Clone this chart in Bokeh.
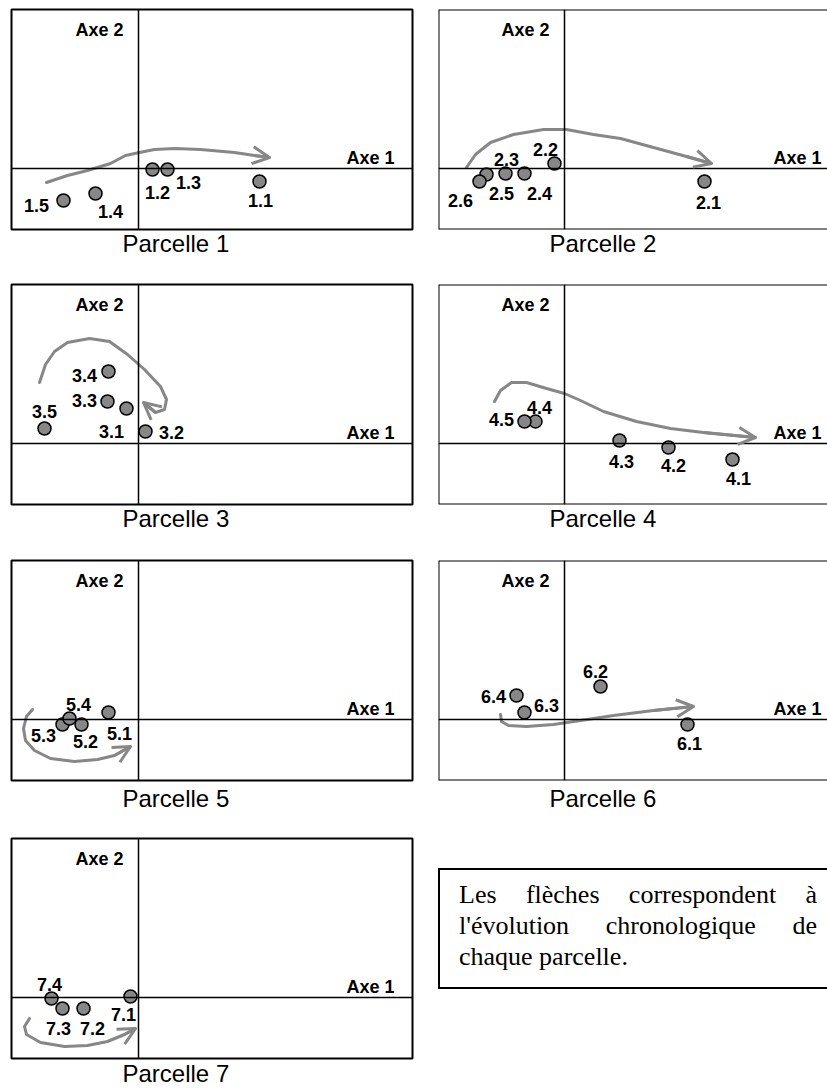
from bokeh.plotting import figure
from bokeh.models import Span, Label, Arrow, OpenHead, ColumnDataSource, Div, Title
from bokeh.layouts import column, row
from bokeh.core.properties import value
from bokeh.embed import file_html
from bokeh.resources import INLINE

# ---------------- data (factor scores, arbitrary units) ----------------
p1_labels = ["1.1", "1.2", "1.3", "1.4", "1.5"]
p1_axe1 = [1.21, 0.14, 0.29, -0.43, -0.75]
p1_axe2 = [-0.13, -0.01, -0.01, -0.25, -0.32]
p1_arrow_x = [-0.92, -0.71, -0.51, -0.28, -0.13, 0.01, 0.16, 0.36, 0.62, 0.96, 1.16, 1.31]
p1_arrow_y = [-0.14, -0.07, -0.02, 0.05, 0.13, 0.16, 0.19, 0.20, 0.19, 0.16, 0.13, 0.11]

p2_labels = ["2.1", "2.2", "2.3", "2.4", "2.5", "2.6"]
p2_axe1 = [1.40, -0.10, -0.78, -0.40, -0.59, -0.85]
p2_axe2 = [-0.13, 0.05, -0.06, -0.05, -0.05, -0.13]
p2_arrow_x = [-0.98, -0.89, -0.74, -0.51, -0.21, 0.02, 0.29, 0.56, 0.89, 1.22, 1.47]
p2_arrow_y = [0.01, 0.14, 0.26, 0.34, 0.39, 0.39, 0.34, 0.30, 0.21, 0.12, 0.05]

p3_labels = ["3.1", "3.2", "3.3", "3.4", "3.5"]
p3_axe1 = [-0.12, 0.07, -0.31, -0.30, -0.94]
p3_axe2 = [0.35, 0.12, 0.42, 0.72, 0.15]
p3_arrow_x = [-0.99, -0.93, -0.84, -0.71, -0.49, -0.29, -0.11, 0.06, 0.22, 0.28, 0.26, 0.17, 0.05]
p3_arrow_y = [0.61, 0.79, 0.92, 1.01, 1.05, 1.02, 0.89, 0.74, 0.57, 0.44, 0.34, 0.31, 0.41]

p4_labels = ["4.1", "4.2", "4.3", "4.4", "4.5"]
p4_axe1 = [1.68, 1.04, 0.55, -0.29, -0.40]
p4_axe2 = [-0.16, -0.04, 0.03, 0.22, 0.22]
p4_arrow_x = [-0.70, -0.64, -0.53, -0.38, -0.18, 0.00, 0.16, 0.39, 0.72, 1.06, 1.39, 1.91]
p4_arrow_y = [0.42, 0.53, 0.61, 0.61, 0.55, 0.50, 0.43, 0.32, 0.22, 0.15, 0.11, 0.06]

p5_labels = ["5.1", "5.2", "5.3", "5.4"]
p5_axe1 = [-0.30, -0.57, -0.76, -0.69]
p5_axe2 = [0.07, -0.05, -0.05, 0.01]
p5_arrow_x = [-1.06, -1.12, -1.15, -1.13, -1.04, -0.88, -0.64, -0.41, -0.24, -0.08]
p5_arrow_y = [0.10, 0.03, -0.09, -0.21, -0.31, -0.39, -0.42, -0.40, -0.36, -0.27]

p6_labels = ["6.1", "6.2", "6.3", "6.4"]
p6_axe1 = [1.23, 0.36, -0.40, -0.48]
p6_axe2 = [-0.05, 0.33, 0.07, 0.24]
p6_arrow_x = [-0.64, -0.63, -0.56, -0.38, -0.11, 0.16, 0.49, 0.89, 1.29]
p6_arrow_y = [0.05, -0.02, -0.06, -0.07, -0.05, -0.01, 0.04, 0.09, 0.13]

p7_labels = ["7.1", "7.2", "7.3", "7.4"]
p7_axe1 = [-0.08, -0.55, -0.76, -0.87]
p7_axe2 = [0.01, -0.11, -0.11, -0.01]
p7_arrow_x = [-1.09, -1.14, -1.12, -0.98, -0.74, -0.51, -0.31, -0.14, -0.03]
p7_arrow_y = [-0.21, -0.29, -0.37, -0.45, -0.49, -0.48, -0.44, -0.37, -0.31]

captions = ["Parcelle 1", "Parcelle 2", "Parcelle 3", "Parcelle 4",
            "Parcelle 5", "Parcelle 6", "Parcelle 7"]
axis1_name = "Axe 1"
axis2_name = "Axe 2"
note_text = "Les flèches correspondent à l'évolution chronologique de chaque parcelle."

# ---------------- layout / style (not data) ----------------
label_offsets = {  # pixel offset of each point label from its point
    "1.1": (1, 19), "1.2": (5, 23), "1.3": (21, 13), "1.4": (15, 18), "1.5": (-27, 5),
    "2.1": (4, 21), "2.2": (-9, -14), "2.3": (20, -15), "2.4": (15, 20), "2.5": (-4, 20), "2.6": (-19, 19),
    "3.1": (-15, 23), "3.2": (26, 1), "3.3": (-23, -1), "3.4": (-24, 4), "3.5": (0, -17),
    "4.1": (6, 19), "4.2": (5, 18), "4.3": (2, 21), "4.4": (4, -14), "4.5": (-23, -2),
    "5.1": (11, 21), "5.2": (4, 17), "5.3": (-19, 11), "5.4": (9, -14),
    "6.1": (2, 19), "6.2": (-5, -15), "6.3": (22, -7), "6.4": (-23, 1),
    "7.1": (-7, 18), "7.2": (9, 20), "7.3": (-4, 20), "7.4": (-2, -14),
}

GRAY = "#878787"
SANS = "Liberation Sans"
FRAME_H = 220
Y_RANGE = (-0.61, 1.59)
LEFT_X = (-1.27, 2.74)    # 401 px frame
RIGHT_X = (-1.26, 2.63)   # 389 px frame (cut at window edge)
ROW_H = [283, 276, 278, 252]
ROW_TOP = [9, 1, 1, 1]
CAPTION_STANDOFF = [1, 1, 9, 2]


def make_panel(idx, labels, ax1, ax2, arx, ary, side, row_i):
    left = side == "left"
    h = ROW_H[row_i]
    top = ROW_TOP[row_i]
    xr = LEFT_X if left else RIGHT_X
    p = figure(width=435 if left else 392, height=h,
               x_range=xr, y_range=Y_RANGE,
               x_axis_type=None, y_axis_type=None,
               toolbar_location=None, output_backend="svg",
               min_border_left=11 if left else 3, min_border_right=23 if left else 0,
               min_border_top=top, min_border_bottom=h - top - FRAME_H)
    p.background_fill_color = "white"
    p.border_fill_color = "white"
    if left:
        p.outline_line_color = "black"
        p.outline_line_width = 2
    else:
        p.outline_line_color = None
        for loc, dim in [(xr[0], "height"), (Y_RANGE[0], "width"), (Y_RANGE[1], "width")]:
            p.add_layout(Span(location=loc, dimension=dim, line_color="black", line_width=2))

    # factorial axes
    p.add_layout(Span(location=0, dimension="height", line_color="black", line_width=1.5))
    p.add_layout(Span(location=0, dimension="width", line_color="black", line_width=1.5))
    p.add_layout(Label(x=383, y=72, x_units="screen", y_units="screen", text=axis1_name,
                       text_align="right", text_baseline="alphabetic", text_color="black",
                       text_font=SANS, text_font_style="bold", text_font_size="18px"))
    p.add_layout(Label(x=0, x_units="data", x_offset=-15, y=200, y_units="screen", text=axis2_name,
                       text_align="right", text_baseline="alphabetic", text_color="black",
                       text_font=SANS, text_font_style="bold", text_font_size="18px"))

    # chronological arrow
    p.line(arx, ary, line_color=GRAY, line_width=3, line_join="round", line_cap="round")
    p.add_layout(Arrow(end=OpenHead(size=17, line_color=GRAY, line_width=3),
                       x_start=arx[-2], y_start=ary[-2], x_end=arx[-1], y_end=ary[-1],
                       line_color=GRAY, line_width=3))

    # points
    src = ColumnDataSource(dict(
        x=ax1, y=ax2, text=labels,
        dx=[label_offsets[l][0] for l in labels],
        dy=[label_offsets[l][1] for l in labels],
    ))
    p.scatter("x", "y", source=src, size=13, fill_color=GRAY, line_color="black", line_width=1.5)
    p.text("x", "y", text="text", x_offset="dx", y_offset="dy", source=src,
           text_align="center", text_baseline="middle",
           text_font=value(SANS), text_font_style="bold", text_font_size="18px", text_color="black")

    # caption
    p.add_layout(Title(text=captions[idx], align="left", offset=111, vertical_align="top",
                       standoff=CAPTION_STANDOFF[row_i], text_font=SANS, text_font_size="24px",
                       text_font_style="normal", text_color="black"), "below")
    return p


p1 = make_panel(0, p1_labels, p1_axe1, p1_axe2, p1_arrow_x, p1_arrow_y, "left", 0)
p2 = make_panel(1, p2_labels, p2_axe1, p2_axe2, p2_arrow_x, p2_arrow_y, "right", 0)
p3 = make_panel(2, p3_labels, p3_axe1, p3_axe2, p3_arrow_x, p3_arrow_y, "left", 1)
p4 = make_panel(3, p4_labels, p4_axe1, p4_axe2, p4_arrow_x, p4_arrow_y, "right", 1)
p5 = make_panel(4, p5_labels, p5_axe1, p5_axe2, p5_arrow_x, p5_arrow_y, "left", 2)
p6 = make_panel(5, p6_labels, p6_axe1, p6_axe2, p6_arrow_x, p6_arrow_y, "right", 2)
p7 = make_panel(6, p7_labels, p7_axe1, p7_axe2, p7_arrow_x, p7_arrow_y, "left", 3)

note = Div(
    text=(
        '<div style="margin-top:31px;margin-left:3px;height:121px;box-sizing:border-box;'
        'border:2px solid black;border-right:none;padding:9px 10px 0 19px;'
        "font-family:'Liberation Serif',serif;font-size:26px;line-height:31px;"
        'text-align:justify;color:black;">' + note_text + "</div>"
    ),
    width=392, height=ROW_H[3], margin=0,
)

layout = column(row(p1, p2), row(p3, p4), row(p5, p6), row(p7, note))

with open("out.html", "w") as f:
    f.write(file_html(layout, INLINE))
